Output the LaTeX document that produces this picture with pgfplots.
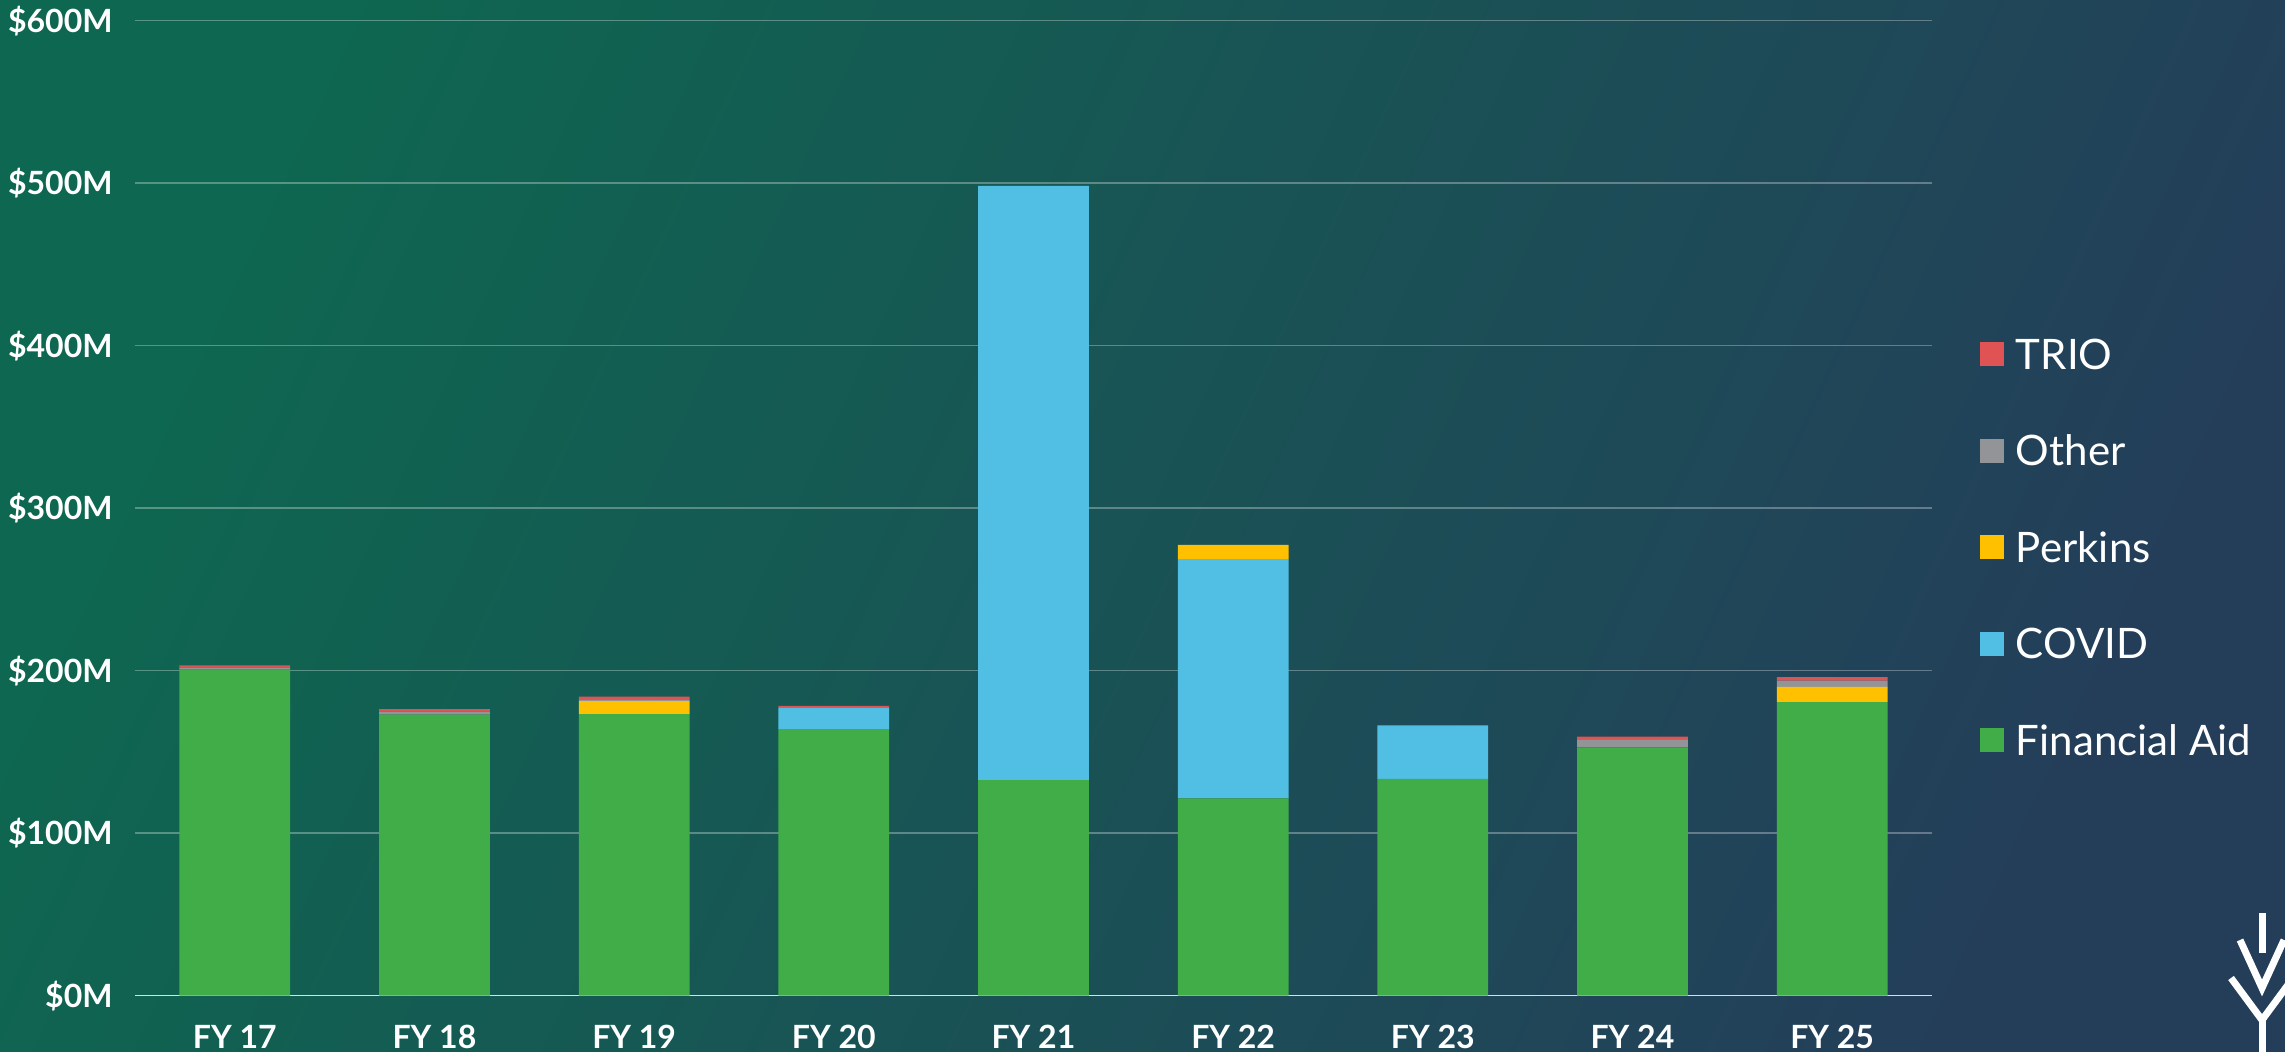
\documentclass[border=0pt]{standalone}
\usepackage{pgfplots}
\pgfplotsset{compat=1.18}
\usepackage{fontspec}
\setmainfont{Lato}
\definecolor{cFA}{HTML}{41AD49}
\definecolor{cCOVID}{HTML}{50BFE3}
\definecolor{cPerk}{HTML}{FFC000}
\definecolor{cOther}{HTML}{929497}
\definecolor{cTRIO}{HTML}{E05355}
\definecolor{bgA}{HTML}{0E6750}
\definecolor{bgB}{HTML}{243E5A}

\pgfplotstableread{
x FA    COVID  Perk  Other TRIO
0 200.6 0      0     1.3   1.4
1 173.0 0      0     1.8   1.5
2 173.3 0      8.0   1.1   1.7
3 164.1 13.1   0     0     1.1
4 132.7 365.6  0     0     0
5 121.5 147.2  8.7   0     0
6 133.4 33.0   0     0     0
7 152.8 0      0     4.6   2.1
8 180.7 0      9.3   3.9   2.1
}\datatable

\begin{document}
\begin{tikzpicture}
\shade[left color=bgA, right color=bgB, shading angle=65] (0,0) rectangle (1142.5pt,525.5pt);
\begin{axis}[
  at={(67.5pt,27.65pt)}, anchor=south west,
  scale only axis, width=898.5pt, height=487.5pt,
  ybar stacked, bar width=0.555,
  xmin=-0.5, xmax=8.5, ymin=0, ymax=600,
  xtick={0,...,8},
  xticklabels={FY 17,FY 18,FY 19,FY 20,FY 21,FY 22,FY 23,FY 24,FY 25},
  ytick={0,100,200,300,400,500,600},
  yticklabels={\$0M,\$100M,\$200M,\$300M,\$400M,\$500M,\$600M},
  axis line style={draw=none},
  major tick length=0pt,
  ymajorgrids,
  major grid style={white, opacity=0.3, line width=0.75pt},
  tick label style={font=\bfseries\fontsize{16}{19}\selectfont, text=white},
  yticklabel style={anchor=east, inner sep=0pt, xshift=-11pt},
  xticklabel style={anchor=north, inner sep=0pt, yshift=-14.5pt},
  every axis plot post/.append style={draw=none,
    legend image code/.code={\fill[##1] (0pt,-6pt) rectangle (12pt,6pt);}},
  reverse legend,
  legend style={at={(1.02671,0.4597)}, anchor=west, draw=none, fill=none,
    inner sep=0pt, outer sep=0pt,
    font=\fontsize{21}{25}\selectfont, text=white, row sep=33.25pt,
    nodes={inner sep=0pt, text height=15pt, text depth=0pt},
    /tikz/every odd column/.style={column sep=6pt}},
  legend cell align=left,
]
\addplot[fill=cFA] table[x=x,y=FA]{\datatable};
\addlegendentry{Financial Aid}
\addplot[fill=cCOVID] table[x=x,y=COVID]{\datatable};
\addlegendentry{COVID}
\addplot[fill=cPerk] table[x=x,y=Perk]{\datatable};
\addlegendentry{Perkins}
\addplot[fill=cOther] table[x=x,y=Other]{\datatable};
\addlegendentry{Other}
\addplot[fill=cTRIO] table[x=x,y=TRIO]{\datatable};
\addlegendentry{TRIO}
\draw[white, opacity=0.75, line width=1pt] (axis cs:-0.5,0) -- (axis cs:8.5,0);
\end{axis}
\begin{scope}
\clip (0,0) rectangle (1142.5pt,525.5pt);
\draw[white, line width=3.5pt] (1131pt,69pt) -- (1131pt,49pt);
\draw[white, line width=3.5pt] (1120pt,55.5pt) -- (1131pt,31.5pt) -- (1142pt,55.5pt);
\draw[white, line width=3.5pt] (1115.5pt,36.5pt) -- (1131pt,15.5pt) -- (1146.5pt,36.5pt);
\draw[white, line width=3.5pt] (1131pt,15.5pt) -- (1131pt,-2pt);
\end{scope}
\pgfresetboundingbox
\useasboundingbox (0,0) rectangle (1142.5pt,525.5pt);
\end{tikzpicture}
\end{document}
